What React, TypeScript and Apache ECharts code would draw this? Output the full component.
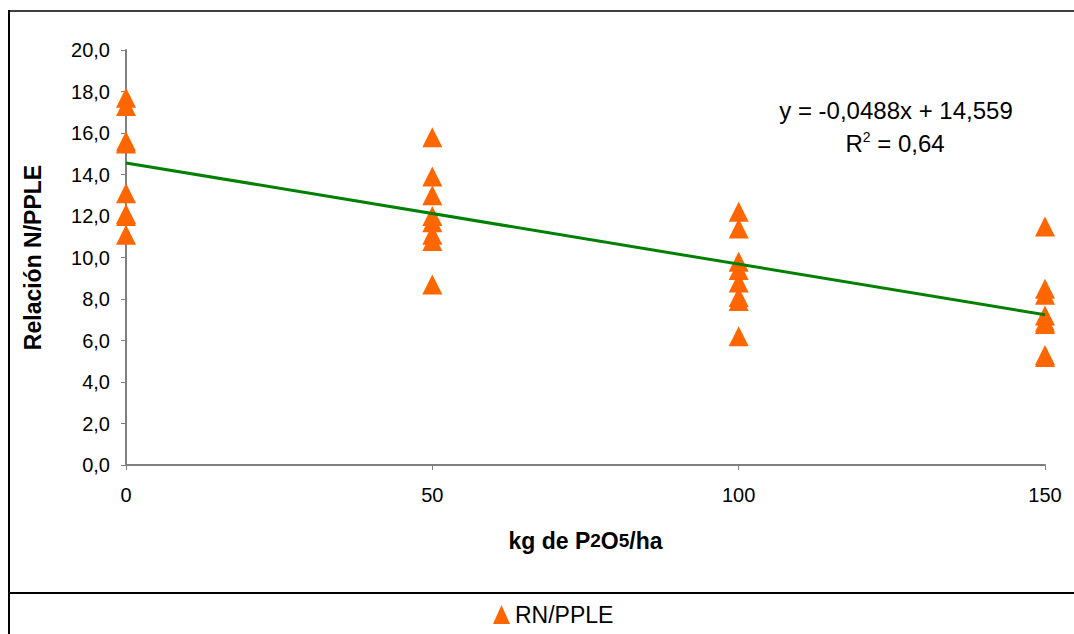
import React, { useEffect, useRef } from "react";
import * as echarts from "echarts";

const doses = [0, 50, 100, 150];
const valuesAt0 = [17.7, 17.3, 15.6, 15.5, 13.1, 12.1, 12.0, 11.1];
const valuesAt50 = [15.8, 13.9, 13.0, 12.0, 11.7, 11.1, 10.8, 8.7];
const valuesAt100 = [12.2, 11.4, 9.8, 9.4, 8.8, 8.1, 7.9, 6.2];
const valuesAt150 = [11.5, 8.5, 8.2, 7.2, 6.9, 6.8, 5.3, 5.2];
const trendLine: [number, number][] = [
  [0, 14.559],
  [150, 7.239],
];
const seriesName = "RN/PPLE";
const equationText = "y = -0,0488x + 14,559";
const r2Value = "0,64";

export default function App() {
  const ref = useRef<HTMLDivElement>(null);
  useEffect(() => {
    if (!ref.current) return;
    const chart = echarts.init(ref.current, null, { renderer: "svg" });
    const groups = [valuesAt0, valuesAt50, valuesAt100, valuesAt150];
    const points: [number, number][] = [];
    groups.forEach((g, i) => g.forEach((v) => points.push([doses[i], v])));
    const font = "Arial, 'Liberation Sans', sans-serif";
    chart.setOption({
      animation: false,
      backgroundColor: "#ffffff",
      textStyle: { fontFamily: font },
      grid: { left: 126, right: 29, top: 50, bottom: 169 },
      xAxis: {
        type: "value",
        min: 0,
        max: 150,
        interval: 50,
        splitLine: { show: false },
        axisLine: { lineStyle: { color: "#808080", width: 2 } },
        axisTick: { show: true, length: 5, lineStyle: { color: "#808080" } },
        axisLabel: { color: "#000", fontSize: 20, margin: 20, fontFamily: font },
        name: "{b|kg de P}{s|2}{b|O}{s|5}{b|/ha}",
        nameLocation: "middle",
        nameGap: 64,
        nameTextStyle: {
          rich: {
            b: { fontSize: 23, fontWeight: "bold", color: "#000", fontFamily: font },
            s: { fontSize: 19, fontWeight: "bold", color: "#000", fontFamily: font },
          },
        },
      },
      yAxis: {
        type: "value",
        min: 0,
        max: 20,
        interval: 2,
        splitLine: { show: false },
        axisLine: { show: true, lineStyle: { color: "#808080", width: 2 } },
        axisTick: { show: true, length: 5, lineStyle: { color: "#808080" } },
        axisLabel: {
          color: "#000",
          fontSize: 20,
          margin: 16,
          fontFamily: font,
          formatter: (v: number) => v.toFixed(1).replace(".", ","),
        },
        name: "Relación N/PPLE",
        nameLocation: "middle",
        nameGap: 82,
        nameTextStyle: { fontSize: 23, fontWeight: "bold", color: "#000", fontFamily: font },
      },
      legend: {
        top: 598,
        left: 488,
        itemWidth: 17,
        itemHeight: 19,
        itemGap: 6,
        textStyle: { fontSize: 23, color: "#000", fontFamily: font },
        data: [{ name: seriesName, icon: "triangle" }],
      },
      series: [
        {
          name: "trend",
          type: "line",
          data: trendLine,
          symbol: "none",
          lineStyle: { color: "#008000", width: 3 },
          z: 3,
        },
        {
          name: seriesName,
          type: "scatter",
          data: points,
          symbol: "triangle",
          symbolSize: [20, 20],
          itemStyle: { color: "#FF6600", opacity: 1 },
          z: 2,
        },
      ],
      graphic: [
        {
          type: "line",
          shape: { x1: 9, y1: 11, x2: 1074, y2: 11 },
          style: { stroke: "#404040", lineWidth: 2 },
        },
        {
          type: "line",
          shape: { x1: 9, y1: 10, x2: 9, y2: 634 },
          style: { stroke: "#000", lineWidth: 2 },
        },
        {
          type: "line",
          shape: { x1: 9, y1: 593, x2: 1074, y2: 593 },
          style: { stroke: "#000", lineWidth: 2 },
        },
        {
          type: "text",
          x: 896,
          y: 110,
          style: {
            text: equationText,
            fontSize: 24,
            fill: "#000",
            fontFamily: font,
            align: "center",
            verticalAlign: "middle",
          },
        },
        {
          type: "text",
          x: 895,
          y: 143,
          style: {
            text: "{n|R}{sup|2}{n| = " + r2Value + "}",
            fontFamily: font,
            align: "center",
            verticalAlign: "middle",
            rich: {
              n: { fontSize: 24, fill: "#000", fontFamily: font },
              sup: { fontSize: 14, fill: "#000", fontFamily: font, verticalAlign: "top", padding: [0, 0, 12, 0] },
            },
          },
        },
      ],
    });
    return () => chart.dispose();
  }, []);
  return (
    <div
      ref={ref}
      style={{ position: "fixed", left: 0, top: 0, width: 1074, height: 634 }}
    />
  );
}
